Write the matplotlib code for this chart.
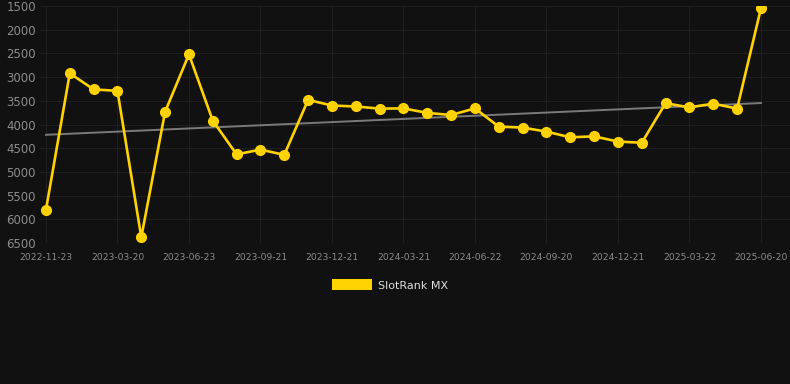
import numpy as np
import matplotlib
matplotlib.use('Agg')
import matplotlib.pyplot as plt
from matplotlib.patches import Patch

# rank values, one per period (lower rank = better, axis inverted)
rank = [5800, 2920, 3260, 3290, 6380, 3730, 2520, 3920, 4630, 4530, 4640,
        3480, 3600, 3620, 3665, 3660, 3755, 3800, 3660, 4045, 4065, 4150,
        4270, 4250, 4360, 4385, 3550, 3640, 3560, 3665, 1550]
tick_labels = ["2022-11-23", "2023-03-20", "2023-06-23", "2023-09-21",
               "2023-12-21", "2024-03-21", "2024-06-22", "2024-09-20",
               "2024-12-21", "2025-03-22", "2025-06-20"]
yticks = [1500, 2000, 2500, 3000, 3500, 4000, 4500, 5000, 5500, 6000, 6500]

bg = '#111111'
gold = '#FFD200'

x = np.arange(len(rank))
slope, icpt = np.polyfit(x, rank, 1)

fig = plt.figure(figsize=(7.9, 3.84), dpi=100, facecolor=bg)
ax = fig.add_axes([40/790, (384-243)/384, 750/790, 237/384])
ax.set_facecolor(bg)

ax.plot([x[0], x[-1]], [icpt, icpt + slope*x[-1]], color='#7a7a7a', lw=1.4, zorder=2)
ax.plot(x, rank, color=gold, lw=1.9, marker='o', ms=7, zorder=3)

ax.set_xlim(-0.25, 31.22)
ax.set_ylim(6500, 1500)
ax.set_yticks(yticks)
ax.set_xticks(x[::3])
ax.set_xticklabels(tick_labels)
ax.grid(True, color='#1f1f1f', lw=0.8)
for s in ax.spines.values():
    s.set_visible(False)
ax.tick_params(axis='y', length=0, labelsize=8.5, labelcolor='#8c8c8c', pad=3)
ax.tick_params(axis='x', length=0, labelsize=6.6, labelcolor='#8c8c8c', pad=7)

fig.legend(handles=[Patch(facecolor=gold, label='SlotRank MX')],
           loc='center', bbox_to_anchor=(390/790, 1 - 285/384), frameon=False,
           handlelength=3.6, handleheight=1.1, fontsize=8, labelcolor='#dddddd',
           handletextpad=0.5)

fig.savefig('out.png', dpi=100, facecolor=bg)
